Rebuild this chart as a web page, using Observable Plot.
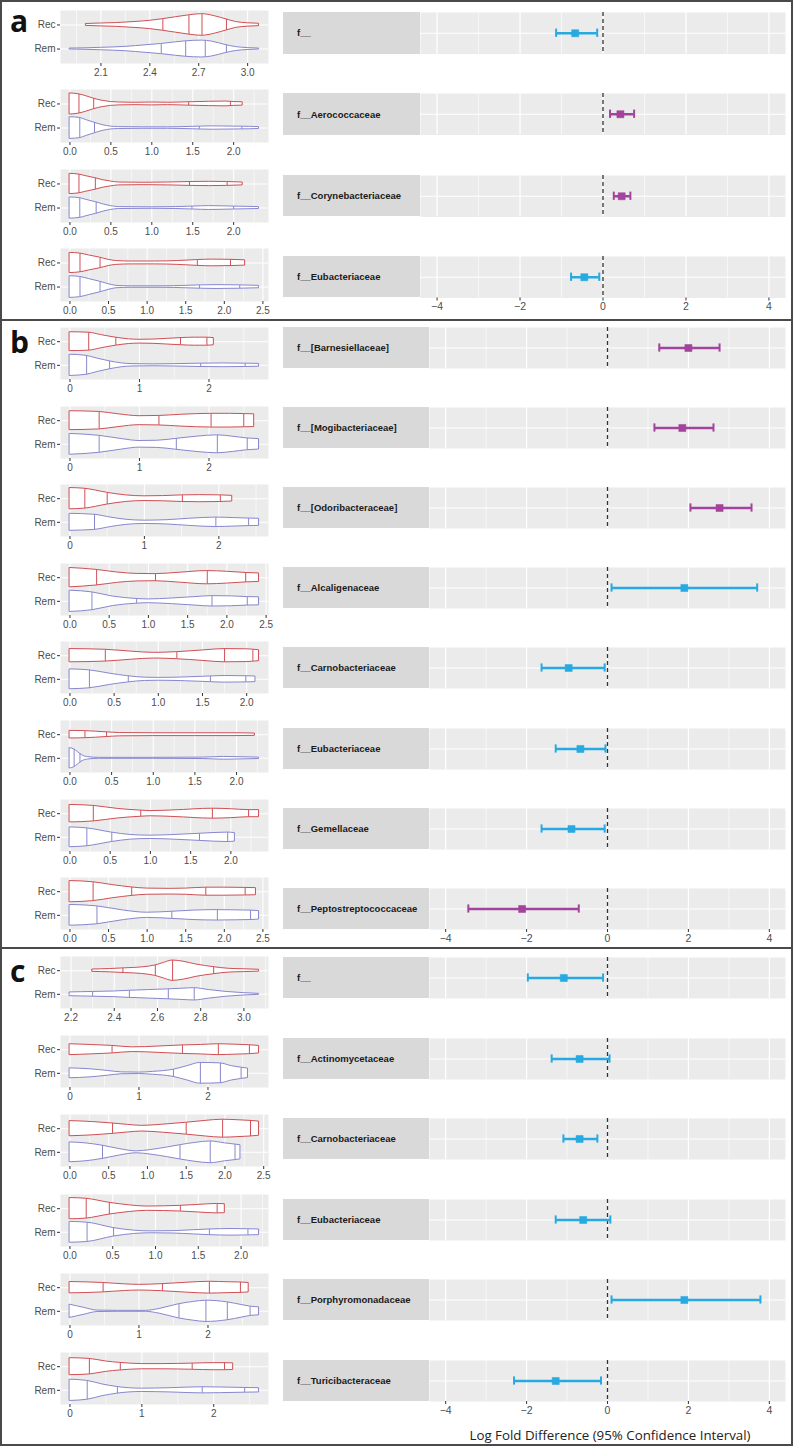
<!DOCTYPE html>
<html><head><meta charset="utf-8">
<script src="https://cdn.jsdelivr.net/npm/d3@7"></script>
<script src="https://cdn.jsdelivr.net/npm/@observablehq/plot@0.6"></script>
<style>
body{margin:0;background:#fff;}
#root{position:relative;width:800px;height:1447px;overflow:hidden;font-family:"Liberation Sans",Arial,sans-serif;background:#fff;}
.abs{position:absolute;}
.lab{position:absolute;background:#d9d9d9;font-weight:bold;font-size:9.5px;color:#1a1a1a;display:flex;align-items:center;padding-left:14px;box-sizing:border-box;white-space:nowrap;}
.letter{position:absolute;font-family:"Open Sans",sans-serif;font-weight:bold;font-size:30px;line-height:30px;color:#111;}
.line{position:absolute;background:#4a4a4a;}
.xtitle{position:absolute;font-family:"Open Sans",sans-serif;font-size:13.3px;color:#222;text-align:center;white-space:nowrap;}
</style></head><body><div id="root"></div>
<script>
// ---------------- DATA ----------------
const panelNames = ["a", "b", "c"];
const rowPanel = ["a","a","a","a","b","b","b","b","b","b","b","b","c","c","c","c","c","c"];
const families = ["f__","f__Aerococcaceae","f__Corynebacteriaceae","f__Eubacteriaceae",
  "f__[Barnesiellaceae]","f__[Mogibacteriaceae]","f__[Odoribacteraceae]","f__Alcaligenaceae",
  "f__Carnobacteriaceae","f__Eubacteriaceae","f__Gemellaceae","f__Peptostreptococcaceae",
  "f__","f__Actinomycetaceae","f__Carnobacteriaceae","f__Eubacteriaceae","f__Porphyromonadaceae","f__Turicibacteraceae"];
const logFold = [-0.67, 0.42, 0.45, -0.45,  2.0, 1.85, 2.77, 1.9, -0.96, -0.67, -0.89, -2.11,  -1.08, -0.69, -0.69, -0.6, 1.9, -1.28];
const ciLow   = [-1.13, 0.17, 0.26, -0.77,  1.28, 1.16, 2.05, 0.1, -1.63, -1.28, -1.63, -3.44,  -1.97, -1.38, -1.09, -1.28, 0.1, -2.31];
const ciHigh  = [-0.14, 0.75, 0.66, -0.09,  2.77, 2.62, 3.56, 3.7, -0.07, -0.05, -0.07, -0.71,  -0.11, 0.05, -0.25, 0.07, 3.78, -0.16];
const colorGroup = ["A","B","B","A","B","B","B","A","A","A","A","B","A","A","A","A","A","A"];
const groups = ["Rec", "Rem"];

// violin outline profiles: [value, half width]
const recProfiles = [
  [[2.01,0.04],[2.1,0.06],[2.2,0.08],[2.3,0.12],[2.4,0.17],[2.48,0.24],[2.56,0.32],[2.64,0.4],[2.72,0.45],[2.8,0.36],[2.87,0.23],[2.93,0.12],[3.0,0.07],[3.07,0.05]],
  [[0,0.44],[0.11,0.4],[0.2,0.32],[0.29,0.22],[0.4,0.13],[0.5,0.08],[0.6,0.06],[0.8,0.05],[1.0,0.06],[1.2,0.05],[1.45,0.07],[1.7,0.09],[1.9,0.1],[2.0,0.08],[2.11,0.07]],
  [[0,0.42],[0.11,0.39],[0.2,0.32],[0.31,0.24],[0.4,0.16],[0.5,0.1],[0.6,0.06],[0.9,0.05],[1.2,0.06],[1.46,0.08],[1.7,0.09],[1.92,0.08],[2.11,0.06]],
  [[0,0.42],[0.13,0.39],[0.25,0.31],[0.39,0.22],[0.5,0.13],[0.6,0.08],[0.8,0.06],[1.1,0.06],[1.4,0.08],[1.65,0.12],[1.85,0.14],[2.08,0.13],[2.27,0.11]],
  [[0,0.4],[0.27,0.38],[0.45,0.28],[0.66,0.17],[0.85,0.1],[1.0,0.08],[1.2,0.09],[1.4,0.12],[1.59,0.15],[1.8,0.17],[1.97,0.17],[2.07,0.15]],
  [[0,0.4],[0.42,0.37],[0.7,0.27],[1.0,0.19],[1.28,0.2],[1.6,0.25],[2.03,0.29],[2.3,0.29],[2.5,0.28],[2.65,0.27]],
  [[0,0.45],[0.2,0.42],[0.5,0.25],[0.75,0.14],[1.0,0.1],[1.25,0.11],[1.51,0.14],[1.75,0.15],[2.02,0.14],[2.18,0.12]],
  [[0,0.41],[0.34,0.33],[0.6,0.22],[0.85,0.16],[1.09,0.15],[1.4,0.21],[1.75,0.28],[2.0,0.25],[2.24,0.2],[2.41,0.18]],
  [[0,0.28],[0.4,0.25],[0.7,0.17],[0.95,0.12],[1.21,0.15],[1.5,0.22],[1.75,0.28],[2.0,0.27],[2.14,0.23]],
  [[0,0.16],[0.18,0.15],[0.44,0.1],[0.6,0.07],[1.0,0.06],[1.5,0.06],[2.0,0.06],[2.22,0.05]],
  [[0,0.37],[0.29,0.33],[0.6,0.2],[0.88,0.13],[1.0,0.11],[1.3,0.14],[1.77,0.21],[2.0,0.19],[2.22,0.15],[2.35,0.15]],
  [[0,0.45],[0.3,0.4],[0.55,0.28],[0.8,0.18],[1.0,0.13],[1.3,0.12],[1.5,0.13],[1.76,0.17],[2.0,0.17],[2.27,0.16],[2.41,0.15]],
  [[2.3,0.05],[2.38,0.07],[2.45,0.1],[2.53,0.14],[2.59,0.22],[2.63,0.33],[2.67,0.43],[2.72,0.38],[2.78,0.26],[2.86,0.15],[2.93,0.08],[3.0,0.06],[3.07,0.04]],
  [[0,0.23],[0.3,0.2],[0.61,0.16],[0.9,0.1],[1.1,0.11],[1.4,0.15],[1.63,0.18],[1.9,0.2],[2.15,0.23],[2.4,0.21],[2.6,0.19],[2.74,0.16]],
  [[0,0.32],[0.3,0.28],[0.55,0.22],[0.75,0.16],[0.93,0.12],[1.2,0.17],[1.5,0.25],[1.75,0.33],[1.97,0.38],[2.15,0.36],[2.33,0.33],[2.44,0.3]],
  [[0,0.45],[0.19,0.42],[0.46,0.25],[0.7,0.14],[0.9,0.09],[1.1,0.1],[1.29,0.12],[1.5,0.16],[1.72,0.2],[1.81,0.19]],
  [[0,0.24],[0.48,0.2],[0.8,0.14],[1.0,0.12],[1.34,0.15],[1.7,0.21],[2.02,0.25],[2.3,0.23],[2.47,0.22],[2.59,0.2]],
  [[0,0.36],[0.27,0.33],[0.5,0.22],[0.7,0.16],[1.0,0.11],[1.3,0.11],[1.7,0.13],[2.0,0.15],[2.15,0.15],[2.27,0.14]]
];
const remProfiles = [
  [[1.91,0.02],[2.0,0.03],[2.1,0.05],[2.25,0.09],[2.38,0.16],[2.47,0.21],[2.56,0.28],[2.62,0.32],[2.72,0.35],[2.78,0.31],[2.87,0.16],[2.93,0.08],[3.0,0.04],[3.07,0.02]],
  [[0,0.45],[0.12,0.42],[0.2,0.33],[0.3,0.22],[0.4,0.12],[0.5,0.06],[0.6,0.04],[0.9,0.03],[1.2,0.03],[1.5,0.05],[1.75,0.07],[2.0,0.06],[2.2,0.05],[2.31,0.04]],
  [[0,0.44],[0.12,0.41],[0.2,0.34],[0.32,0.24],[0.42,0.14],[0.5,0.08],[0.6,0.04],[1.0,0.03],[1.3,0.04],[1.5,0.06],[1.7,0.08],[2.0,0.06],[2.31,0.04]],
  [[0,0.45],[0.13,0.42],[0.25,0.33],[0.39,0.22],[0.5,0.12],[0.6,0.05],[0.8,0.03],[1.2,0.03],[1.5,0.05],[1.7,0.07],[1.9,0.08],[2.2,0.07],[2.45,0.05]],
  [[0,0.45],[0.24,0.4],[0.4,0.28],[0.57,0.17],[0.75,0.08],[0.9,0.05],[1.2,0.04],[1.5,0.05],[1.88,0.07],[2.2,0.08],[2.52,0.07],[2.72,0.06]],
  [[0,0.44],[0.42,0.36],[0.75,0.22],[1.0,0.14],[1.25,0.15],[1.53,0.23],[1.85,0.33],[2.12,0.38],[2.35,0.32],[2.55,0.25],[2.72,0.22]],
  [[0,0.36],[0.33,0.32],[0.55,0.2],[0.75,0.11],[1.0,0.07],[1.3,0.09],[1.6,0.15],[1.96,0.2],[2.2,0.18],[2.4,0.16],[2.54,0.15]],
  [[0,0.45],[0.28,0.38],[0.55,0.2],[0.85,0.1],[1.0,0.08],[1.3,0.12],[1.6,0.18],[1.81,0.22],[2.05,0.21],[2.26,0.18],[2.41,0.17]],
  [[0,0.42],[0.22,0.38],[0.45,0.24],[0.66,0.13],[0.85,0.07],[1.0,0.06],[1.3,0.08],[1.59,0.12],[1.75,0.14],[1.99,0.13],[2.1,0.12]],
  [[0,0.43],[0.05,0.38],[0.1,0.25],[0.15,0.12],[0.22,0.05],[0.35,0.02],[1.0,0.02],[1.6,0.03],[1.85,0.06],[2.0,0.05],[2.27,0.03]],
  [[0,0.42],[0.21,0.38],[0.52,0.2],[0.75,0.1],[1.0,0.07],[1.3,0.1],[1.61,0.15],[1.96,0.2],[2.05,0.18]],
  [[0,0.44],[0.35,0.38],[0.7,0.2],[1.0,0.11],[1.32,0.15],[1.6,0.2],[1.91,0.22],[2.15,0.21],[2.34,0.2],[2.45,0.18]],
  [[2.195,0.08],[2.3,0.1],[2.4,0.12],[2.47,0.15],[2.56,0.18],[2.65,0.21],[2.72,0.24],[2.77,0.26],[2.84,0.18],[2.92,0.1],[3.0,0.05],[3.07,0.02]],
  [[0,0.21],[0.3,0.17],[0.55,0.1],[0.75,0.04],[1.0,0.03],[1.2,0.06],[1.5,0.15],[1.7,0.3],[1.89,0.44],[2.18,0.42],[2.35,0.3],[2.48,0.24],[2.58,0.2]],
  [[0,0.42],[0.2,0.38],[0.42,0.28],[0.65,0.13],[0.86,0.04],[1.05,0.1],[1.25,0.2],[1.42,0.3],[1.62,0.4],[1.81,0.46],[2.0,0.38],[2.13,0.33],[2.2,0.3]],
  [[0,0.44],[0.2,0.41],[0.51,0.18],[0.75,0.07],[0.95,0.04],[1.2,0.05],[1.45,0.09],[1.63,0.12],[1.9,0.14],[2.08,0.13],[2.21,0.12]],
  [[0,0.28],[0.2,0.15],[0.4,0.03],[0.7,0.02],[1.1,0.02],[1.3,0.1],[1.58,0.3],[1.8,0.4],[1.97,0.45],[2.28,0.38],[2.5,0.26],[2.61,0.2],[2.74,0.17]],
  [[0,0.45],[0.24,0.4],[0.45,0.25],[0.66,0.14],[1.0,0.07],[1.4,0.09],[1.84,0.13],[2.1,0.12],[2.43,0.1],[2.63,0.09]]
];
const recQuantiles = [
  [2.48,2.64,2.72,2.87],[0.11,0.29,1.45,1.96],[0.11,0.31,1.46,1.92],[0.13,0.39,1.65,2.08],
  [0.27,0.66,1.59,1.97],[0.42,1.28,2.03,2.5],[0.2,0.5,1.51,2.02],[0.34,1.09,1.75,2.24],
  [0.4,1.21,1.75,2.07],[0.18,0.44],[0.29,0.88,1.77,2.22],[0.3,0.8,1.76,2.27],
  [2.44,2.59,2.67,2.86],[0.61,1.63,2.15,2.6],[0.55,1.5,1.97,2.33],[0.19,0.46,1.29,1.72],[0.48,1.34,2.02,2.47],[0.27,0.7,1.7,2.15]
];
const remQuantiles = [
  [2.47,2.62,2.74,2.87],[0.12,0.3,1.58,2.1],[0.12,0.32,1.49,2.0],[0.13,0.39,1.68,2.2],
  [0.24,0.57,1.88,2.52],[0.42,1.53,2.12,2.55],[0.33,1.96,2.4],[0.28,0.85,1.81,2.26],
  [0.22,0.66,1.59,1.99],[0.05,0.12],[0.21,0.52,1.61,1.96],[0.35,1.32,1.91,2.34],
  [2.3,2.47,2.65,2.77],[1.5,1.89,2.18,2.48],[0.42,1.42,1.81,2.13],[0.2,0.51,1.63,2.08],[1.58,1.97,2.28,2.61],[0.24,0.66,1.84,2.43]
];
const violinTicks = [
  [2.1,2.4,2.7,3.0],[0,0.5,1,1.5,2],[0,0.5,1,1.5,2],[0,0.5,1,1.5,2,2.5],
  [0,1,2],[0,1,2],[0,1,2],[0,0.5,1,1.5,2,2.5],[0,0.5,1,1.5,2],[0,0.5,1,1.5,2],[0,0.5,1,1.5,2],[0,0.5,1,1.5,2,2.5],
  [2.2,2.4,2.6,2.8,3.0],[0,1,2],[0,0.5,1,1.5,2,2.5],[0,0.5,1,1.5,2],[0,1,2],[0,1,2]
];
const forestTicks = [-4, -2, 0, 2, 4];
const forestDomain = [-4.4, 4.4];
const axisTitle = "Log Fold Difference (95% Confidence Interval)";

// ---------------- STYLE / LAYOUT ----------------
const groupColor = {Rec: "#cf4f55", Rem: "#8787cf"};
const forestColor = {A: "#27aae1", B: "#a3449c"};
const layout = {
  a: {vTop: 10, vStep: 79.3, vH: 53, fTop: 12, fStep: 81.3, fH: 41.5, labelW: 137, letterTop: 6},
  b: {vTop: 327, vStep: 78.6, vH: 52, fTop: 327, fStep: 80.1, fH: 41, labelW: 146, letterTop: 327},
  c: {vTop: 956, vStep: 79.2, vH: 52, fTop: 957, fStep: 80.6, fH: 41, labelW: 146, letterTop: 956}
};
const font = '"Liberation Sans", Arial, sans-serif';
const root = document.getElementById("root");

function place(node, left, top) {
  const d = document.createElement("div");
  d.className = "abs"; d.style.left = left + "px"; d.style.top = top + "px";
  d.appendChild(node); root.appendChild(d); return d;
}
function widthAt(profile, q) {
  for (let i = 1; i < profile.length; i++) {
    const [x0, w0] = profile[i - 1], [x1, w1] = profile[i];
    if (q >= x0 && q <= x1) return w0 + (w1 - w0) * (q - x0) / (x1 - x0);
  }
  return 0;
}

function violinPlot(i, panelH) {
  const all = [...recProfiles[i], ...remProfiles[i]].map(d => d[0]);
  const lo = d3.min(all), hi = d3.max(all), pad = (hi - lo) * 0.05;
  const domain = [lo - pad, hi + pad];
  const ticks = violinTicks[i];
  const step = +(ticks[1] - ticks[0]).toFixed(6);
  const minor = [];
  for (let k = -1; k < ticks.length + 1; k++) {
    const m = ticks[0] + step * k + step / 2;
    if (m > domain[0] && m < domain[1]) minor.push(m);
  }
  const fmt = Number.isInteger(step) ? d3.format("d") : d3.format(".1f");
  const center = {Rec: 2, Rem: 1};
  const marks = [
    Plot.frame({fill: "#ebebeb", stroke: "none"}),
    Plot.gridX(minor, {stroke: "white", strokeOpacity: 1, strokeWidth: 0.6}),
    Plot.gridX(ticks, {stroke: "white", strokeOpacity: 1, strokeWidth: 1.1}),
    Plot.gridY([1, 2], {stroke: "white", strokeOpacity: 1, strokeWidth: 1.1})
  ];
  for (const g of groups) {
    const prof = g === "Rec" ? recProfiles[i] : remProfiles[i];
    const qs = g === "Rec" ? recQuantiles[i] : remQuantiles[i];
    const c = center[g];
    marks.push(Plot.areaY(prof, {x: d => d[0], y1: d => c - d[1], y2: d => c + d[1],
      fill: "white", stroke: groupColor[g], strokeWidth: 1, curve: "monotone-x"}));
    marks.push(Plot.ruleX(qs, {x: d => d, y1: d => c - widthAt(prof, d), y2: d => c + widthAt(prof, d),
      stroke: groupColor[g], strokeWidth: 1}));
  }
  marks.push(Plot.axisX(ticks, {tickSize: 3, tickPadding: 2, tickFormat: fmt, fill: "#4d4d4d", stroke: "#333", fontSize: 10, label: null}));
  marks.push(Plot.axisY([1, 2], {tickSize: 3, tickPadding: 2, tickFormat: d => d === 2 ? "Rec" : "Rem", fill: "#4d4d4d", stroke: "#333", fontSize: 10, label: null}));
  return Plot.plot({
    width: 275, height: panelH + 22, marginLeft: 60, marginRight: 7, marginTop: 0, marginBottom: 22,
    style: {fontFamily: font, fontSize: "10px", background: "transparent", overflow: "visible"},
    x: {domain}, y: {domain: [0.4, 2.6]},
    marks
  });
}

function forestPlot(i, labelW, h, last) {
  const d = [{est: logFold[i], lo: ciLow[i], hi: ciHigh[i], g: colorGroup[i]}];
  const col = forestColor[colorGroup[i]];
  const marks = [
    Plot.frame({fill: "#ebebeb", stroke: "none"}),
    Plot.gridX([-3, -1, 1, 3], {stroke: "white", strokeOpacity: 1, strokeWidth: 0.6}),
    Plot.gridX(forestTicks, {stroke: "white", strokeOpacity: 1, strokeWidth: 1.2}),
    Plot.ruleY([0.5], {stroke: "white", strokeWidth: 1.2}),
    Plot.ruleX([0], {stroke: "#333", strokeWidth: 1.3, strokeDasharray: "4,3"}),
    Plot.ruleY(d, {y: 0.5, x1: "lo", x2: "hi", stroke: col, strokeWidth: 2.5}),
    Plot.ruleX(d, {x: "lo", y1: 0.4, y2: 0.6, stroke: col, strokeWidth: 2}),
    Plot.ruleX(d, {x: "hi", y1: 0.4, y2: 0.6, stroke: col, strokeWidth: 2}),
    Plot.dot(d, {x: "est", y: 0.5, symbol: "square", r: 4, fill: col, stroke: col, strokeWidth: 0.5})
  ];
  if (last) marks.push(Plot.axisX(forestTicks, {tickSize: 3, tickPadding: 2, fill: "#4d4d4d", stroke: "#333", fontSize: 10.5, label: null}));
  return Plot.plot({
    width: 512, height: h + (last ? 22 : 0), marginLeft: labelW, marginRight: 10, marginTop: 0, marginBottom: last ? 22 : 0,
    style: {fontFamily: font, fontSize: "10.5px", background: "transparent", overflow: "visible"},
    x: {domain: forestDomain, axis: null}, y: {domain: [0, 1], axis: null},
    marks
  });
}

// frame lines
function line(l, t, w, h) { const d = document.createElement("div"); d.className = "line";
  Object.assign(d.style, {left: l + "px", top: t + "px", width: w + "px", height: h + "px"}); root.appendChild(d); }
line(0, 0, 793, 2); line(0, 1444, 793, 2); line(0, 0, 2, 1446); line(791, 0, 2, 1446);
line(0, 319, 793, 2); line(0, 947, 793, 2);

for (const p of panelNames) {
  const L = layout[p];
  const rows = d3.range(rowPanel.length).filter(i => rowPanel[i] === p);
  rows.forEach((i, k) => {
    place(violinPlot(i, L.vH), 0, L.vTop + k * L.vStep);
    const ft = L.fTop + k * L.fStep;
    const lab = document.createElement("div");
    lab.className = "lab";
    Object.assign(lab.style, {left: "283px", top: ft + "px", width: L.labelW + "px", height: L.fH + "px"});
    lab.textContent = families[i];
    root.appendChild(lab);
    place(forestPlot(i, L.labelW, L.fH, k === rows.length - 1), 283, ft);
  });
  const lt = document.createElement("div");
  lt.className = "letter"; lt.textContent = p;
  Object.assign(lt.style, {left: "10px", top: L.letterTop + "px"});
  root.appendChild(lt);
}
const xt = document.createElement("div");
xt.className = "xtitle"; xt.textContent = axisTitle;
Object.assign(xt.style, {left: "410px", width: "400px", top: "1426px"});
root.appendChild(xt);
</script></body></html>
